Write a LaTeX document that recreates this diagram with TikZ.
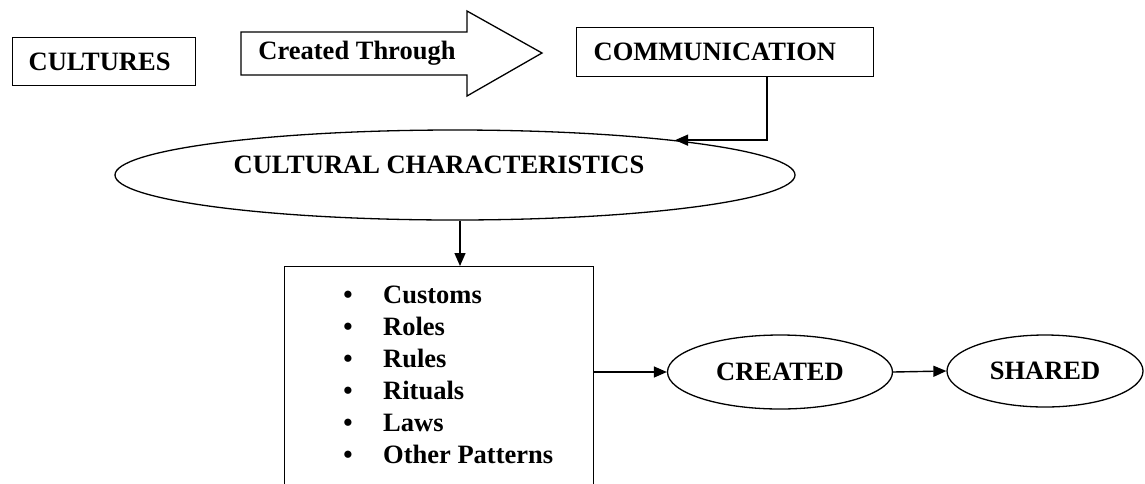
\documentclass[tikz,border=0pt]{standalone}
\usepackage{fontspec}
\setmainfont{Liberation Serif}
\usetikzlibrary{arrows.meta,calc,shapes.geometric}
\begin{document}
\begin{tikzpicture}[x=1pt,y=-1pt,
  every node/.style={font=\bfseries\fontsize{26.5}{32}\selectfont},
  boxed/.style={draw,line width=1.3pt,rectangle,inner ysep=0pt,minimum height=48pt,align=left},
  oval/.style={draw,line width=1.3pt,ellipse,inner sep=0pt},
  arr/.style={line width=1.4pt,-{Triangle[length=13pt,width=11pt]}},
  item/.style={anchor=base west,inner sep=0pt},
  bul/.style={anchor=base,inner sep=0pt}]
\useasboundingbox (0,0) rectangle (1145,483);
\clip (0,0) rectangle (1145,483);
\fill[white] (0,0) rectangle (1145,483);
% top row
\node[boxed, anchor=north west, inner xsep=16pt, text width=151pt] (cult) at (12,37) {CULTURES};
\draw[line width=1.3pt] (241,32) -- (467,32) -- (467,11) -- (542,53) -- (467,96) -- (467,75) -- (241,75) -- cycle;
\node (thr) at (357,53) {Created Through};
\node[boxed, anchor=north west, inner xsep=17pt, text width=263pt, minimum height=49pt] (comm) at (576,27) {COMMUNICATION};
% ellipse
\node[oval, minimum width=680pt, minimum height=90pt,
  label={[xshift=-16pt,yshift=10pt]center:CULTURAL CHARACTERISTICS}] (cc) at (455,175) {};
% list box
\node[draw,line width=1.3pt,anchor=north west,minimum width=309pt,minimum height=240pt,inner sep=0pt] (list) at (284,266) {};
\foreach \t [count=\i from 0] in {Customs,Roles,Rules,Rituals,Laws,Other Patterns}{
  \node[item] (it\i) at (383,{303+32*\i}) {\t};
  \node[bul] (bu\i) at (348,{303+32*\i}) {\textbullet};
}
% ovals
\node[oval, minimum width=225pt, minimum height=74pt] (cr) at (780,372) {CREATED};
\node[oval, minimum width=196pt, minimum height=72pt] (sh) at (1045,371) {SHARED};
% connectors
\coordinate (cx) at (767,0);
\draw[arr] (comm.south -| cx) |- (cc.9);
\coordinate (ax) at (460,0);
\draw[arr] (cc.south -| ax) -- (list.north -| ax);
\draw[arr] (list.east |- cr.west) -- (cr.west);
\draw[arr] (cr.east) -- (sh.west);
\end{tikzpicture}
\end{document}
